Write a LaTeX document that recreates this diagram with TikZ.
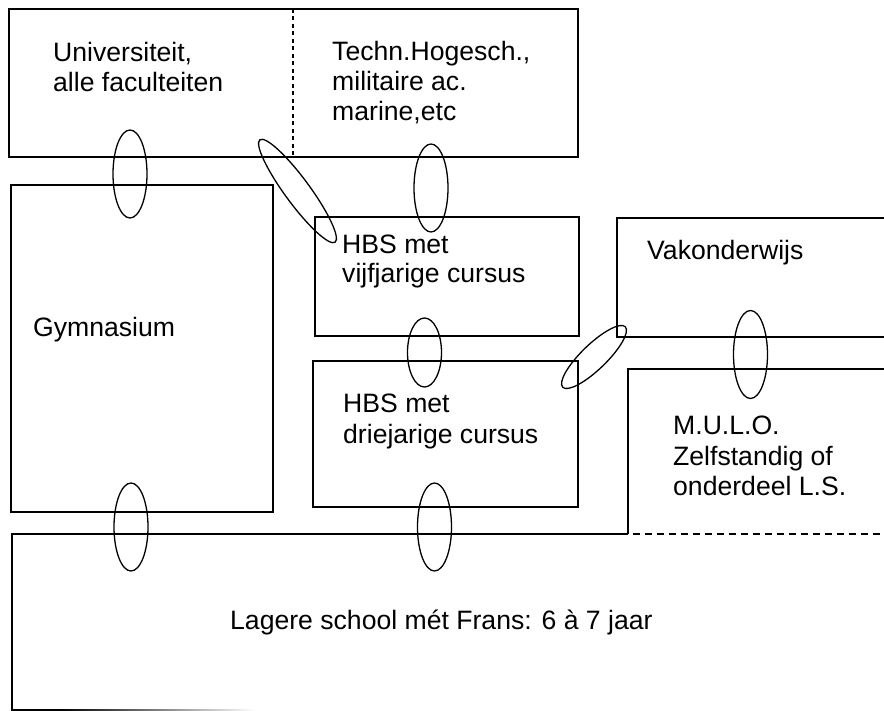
\documentclass[tikz,border=0pt]{standalone}
\usepackage{fontspec}
\setmainfont{Liberation Sans}
\usetikzlibrary{shapes.geometric}
\tikzset{
  box/.style={draw, line width=1.5pt, inner sep=0pt},
  lbl/.style={anchor=base west, inner sep=0pt, font=\fontsize{26.6}{30}\selectfont},
  ring/.style={draw, ellipse, line width=1.3pt, inner sep=0pt},
  vring/.style={ring, minimum width=34pt, minimum height=88pt},
  divider/.style={line width=1.1pt, dash pattern=on 4pt off 3.5pt},
  openline/.style={line width=1.5pt},
}
\begin{document}
\begin{tikzpicture}[x=1pt,y=-1pt]
\useasboundingbox (0,0) rectangle (884,711);
% boxes
\node[box, minimum width=569pt, minimum height=148pt] (top) at (293.5,83) {};
\node[box, minimum width=262pt, minimum height=327pt] (gym) at (142,348.5) {};
\node[box, minimum width=264pt, minimum height=119pt] (hbs5) at (447,276.5) {};
\node[box, minimum width=265pt, minimum height=146pt] (hbs3) at (445.5,434) {};
% divider in top box
\coordinate (dvT) at (293,9);
\coordinate (dvB) at (293,157);
\draw[divider] (dvT) -- (dvB);
% Vakonderwijs (open right)
\coordinate (vak1) at (884,218);
\coordinate (vak2) at (617,218);
\coordinate (vak3) at (617,337);
\coordinate (vak4) at (884,337);
\draw[openline] (vak1) -- (vak2) -- (vak3) -- (vak4);
% MULO
\coordinate (mulo1) at (884,369);
\coordinate (mulo2) at (628,369);
\coordinate (mulo3) at (628,534);
\draw[openline] (mulo1) -- (mulo2) -- (mulo3);
% Lagere school
\coordinate (ls1) at (12,534);
\coordinate (ls2) at (12,710);
\draw[openline] (mulo3) -- (ls1) -- (ls2);
\coordinate (dsA) at (633,534);
\coordinate (dsB) at (884,534);
\draw[line width=1.2pt, dash pattern=on 7pt off 5pt] (dsA) -- (dsB);
\fill[black] (11.25,709) rectangle (60,711);
\shade[left color=black, right color=white] (60,709) rectangle (255,711);
% texts
\node[lbl] (t1a) at (53,62) {Universiteit,};
\node[lbl] (t1b) at (53,92) {alle faculteiten};
\node[lbl] (t2a) at (332,61) {Techn.Hogesch.,};
\node[lbl] (t2b) at (332,91) {militaire ac.};
\node[lbl] (t2c) at (332,121) {marine,etc};
\node[lbl] (t3) at (33,337) {Gymnasium};
\node[lbl] (t4a) at (342,254) {HBS met};
\node[lbl] (t4b) at (342,283) {vijfjarige cursus};
\node[lbl] (t5a) at (343,412) {HBS met};
\node[lbl] (t5b) at (343,443) {driejarige cursus};
\node[lbl] (t6) at (647,260) {Vakonderwijs};
\node[lbl] (t7a) at (673,435) {M.U.L.O.};
\node[lbl] (t7b) at (673,465) {Zelfstandig of};
\node[lbl] (t7c) at (673,495) {onderdeel L.S.};
\node[lbl] (t8) at (230,629) {Lagere school mét Frans: 6 à 7 jaar};
% ellipses (links)
\node[vring] (e1) at (130,174) {};
\node[vring] (e2) at (431,188) {};
\node[ring, minimum width=34pt, minimum height=69pt] (e3) at (424.5,352.5) {};
\node[vring] (e4) at (131,527) {};
\node[vring] (e5) at (434.5,527) {};
\node[vring] (e6) at (750.5,354.5) {};
\node[ring, minimum width=127pt, minimum height=25pt, rotate=-53.7] (e7) at (297.5,191) {};
\node[ring, minimum width=87pt, minimum height=25pt, rotate=44] (e8) at (594,357) {};
\end{tikzpicture}
\end{document}
